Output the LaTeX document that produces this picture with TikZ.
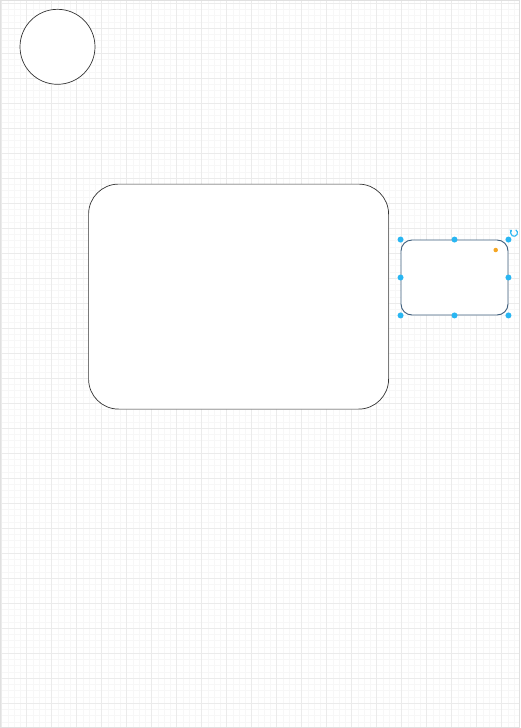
\documentclass[tikz,border=0pt]{standalone}
\usetikzlibrary{arrows.meta}
\definecolor{gridminor}{HTML}{F7F7F7}
\definecolor{gridmajor}{HTML}{EBEBEB}
\definecolor{pageedge}{HTML}{E0E0E0}
\definecolor{selblue}{HTML}{29B6F2}
\definecolor{selstroke}{HTML}{3B5B7A}
\definecolor{hintorange}{HTML}{F5A623}
\begin{document}
\begin{tikzpicture}[x=1pt,y=-1pt,
		shp/.style={draw=black!80, line width=0.7pt, fill=white, inner sep=0pt},
		handle/.style={circle, fill=selblue, inner sep=0pt, minimum size=6pt}]
	\useasboundingbox (0,0) rectangle (521,728);
	% page with its grid
	\fill[white] (0,0) rectangle (521,728);
	\foreach \x in {1.7,7.95,...,520}{
		\draw[gridminor, line width=0.5pt] (\x,1) -- (\x,727);
	}
	\foreach \y in {3,9.25,...,727}{
		\draw[gridminor, line width=0.5pt] (1,\y) -- (520,\y);
	}
	\foreach \x in {1.7,26.7,...,520}{
		\draw[gridmajor, line width=0.5pt] (\x,1) -- (\x,727);
	}
	\foreach \y in {3,28,...,727}{
		\draw[gridmajor, line width=0.5pt] (1,\y) -- (520,\y);
	}
	\draw[pageedge, line width=0.8pt] (0.5,0.8) rectangle (519.5,727.5);
	% shapes
	\node[shp, circle, minimum size=75pt] (circ) at (57.5,46.8) {};
	\node[shp, rounded corners=30pt, minimum width=300pt, minimum height=225pt] (big) at (238.6,296.6) {};
	\node[shp, draw=selstroke, line width=0.9pt, rounded corners=11pt, minimum width=107pt, minimum height=75pt] (small) at (454.5,277.5) {};
	% selection handles of the small one
	\def\handles {nw/north west, n/north, ne/north east, w/west, e/east, sw/south west, s/south, se/south east};
	\foreach \n/\a in \handles{
		\node[handle] (h\n) at (small.\a) {};
	}
	\node[circle, fill=hintorange, inner sep=0pt, minimum size=4.5pt] (rad) at (495.7,250) {};
	\coordinate (rot) at (514,232.8);
	\draw[selblue, line width=1.1pt, -{Stealth[length=2.2pt,width=3.4pt]}]
		([shift={(60:3.5pt)}]rot) arc[start angle=60, end angle=-235, radius=3.5pt];
\end{tikzpicture}
\end{document}
